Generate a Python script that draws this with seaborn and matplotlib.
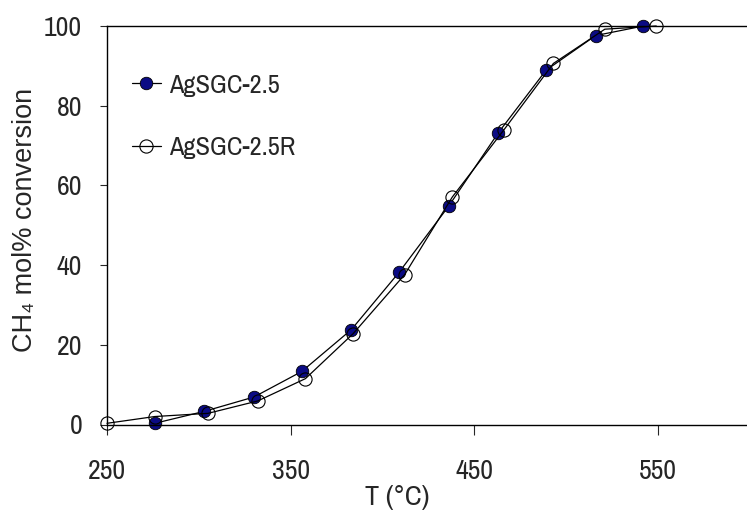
import pandas as pd
import seaborn as sns
import matplotlib.pyplot as plt
from matplotlib import font_manager as fm

# CH4 conversion vs temperature
temp_fresh = [276, 303, 330, 356, 383, 409, 436, 463, 489, 516, 542]
conv_fresh = [0.3, 3.3, 6.9, 13.3, 23.8, 38.2, 54.8, 73.2, 88.9, 97.6, 100]

temp_reused = [250, 276, 305, 332, 358, 384, 412, 438, 466, 493, 521, 549]
conv_reused = [0.3, 2.0, 2.8, 5.9, 11.5, 22.8, 37.6, 57.1, 73.9, 90.6, 99.2, 100]

x_ticks = [250, 350, 450, 550]
y_ticks = [0, 20, 40, 60, 80, 100]

REGULAR = ['Liberation Sans', 'DejaVu Sans']


def pick_narrow_font():
    """Look for a condensed sans face; fall back to Liberation Sans."""
    for f in fm.fontManager.ttflist:
        if f.style != 'normal' or f.weight not in (400, 'normal', 'regular'):
            continue
        if 'Narrow' in f.name or 'Condensed' in f.name:
            return f.name, 'normal'
    for f in fm.fontManager.ttflist:
        if f.style != 'normal' or f.weight not in (400, 'normal', 'regular'):
            continue
        if f.stretch in ('condensed', 'semi-condensed', 'extra-condensed'):
            return f.name, f.stretch
    return 'Liberation Sans', 'normal'


def main():
    sns.set_style('white')
    name, stretch = pick_narrow_font()
    plt.rcParams['font.family'] = [name, 'DejaVu Sans']
    plt.rcParams['font.stretch'] = stretch

    fresh = pd.DataFrame({'T': temp_fresh, 'conv': conv_fresh})
    reused = pd.DataFrame({'T': temp_reused, 'conv': conv_reused})

    fig = plt.figure(figsize=(7.47, 5.17), dpi=100)
    ax = fig.add_axes([107 / 747, 92.5 / 517, 640 / 747, 398.5 / 517])

    sns.lineplot(data=fresh, x='T', y='conv', ax=ax, sort=False, estimator=None,
                 color='black', linewidth=0.9, marker='o', markersize=9,
                 markerfacecolor='#0b0b84', markeredgecolor='black',
                 markeredgewidth=0.6, clip_on=False, label='AgSGC-2.5')
    sns.lineplot(data=reused, x='T', y='conv', ax=ax, sort=False, estimator=None,
                 color='black', linewidth=0.9, marker='o', markersize=9.5,
                 markerfacecolor='none', markeredgecolor='black',
                 markeredgewidth=0.8, clip_on=False, label='AgSGC-2.5R')

    ax.set_xlim(250, 250 + 640 / 1.837)
    ax.set_ylim(0, 100)
    ax.set_xticks(x_ticks)
    ax.set_yticks(y_ticks)

    for side in ['left', 'bottom', 'top']:
        ax.spines[side].set_color('black')
        ax.spines[side].set_linewidth(1.0)
    ax.spines['right'].set_visible(False)

    ax.tick_params(axis='x', direction='out', length=7, width=0.8,
                   pad=18, labelsize=20, bottom=True)
    ax.tick_params(axis='y', direction='out', length=4.8, width=0.8,
                   pad=13, labelsize=20, left=True)

    ax.set_xlabel('T (°C)', fontsize=20.5)
    ax.xaxis.set_label_coords(0.453, -0.152)
    ax.set_ylabel('CH₄ mol% conversion', fontsize=19.5, family=REGULAR)
    ax.yaxis.set_label_coords(-0.108, 0.513)

    ax.legend(loc='center left', bbox_to_anchor=(0.039, 0.773), frameon=False,
              fontsize=19, handlelength=1.1, handletextpad=0.3,
              labelspacing=1.5, borderpad=0, borderaxespad=0)

    fig.savefig('out.png', dpi=100)
    plt.close(fig)


if __name__ == '__main__':
    main()
